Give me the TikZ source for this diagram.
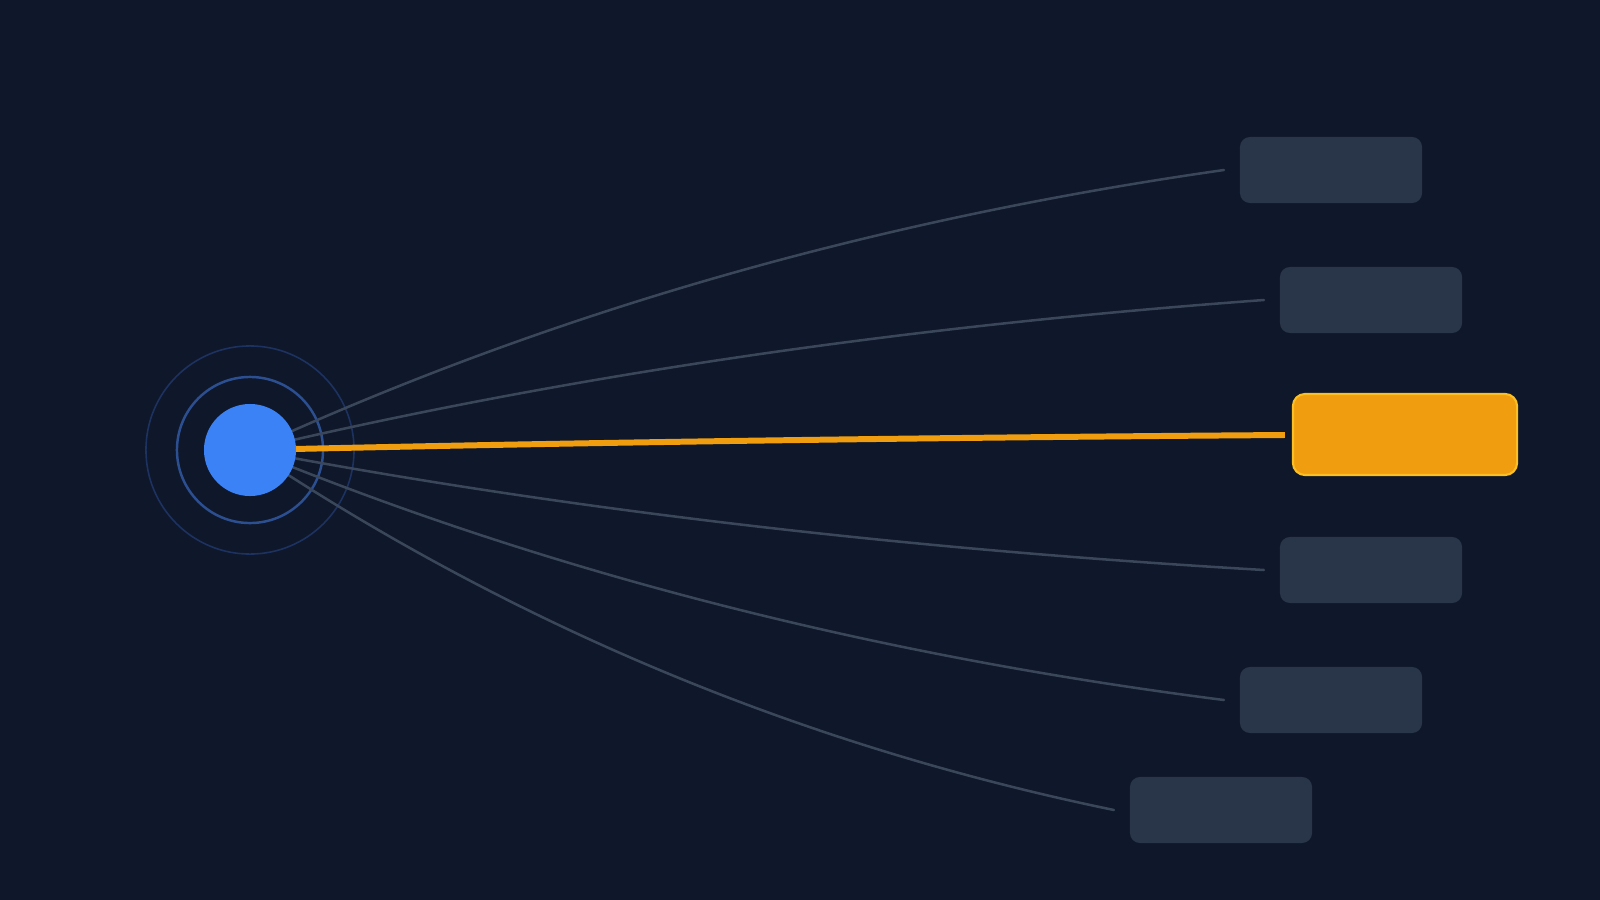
\documentclass[tikz,border=0pt]{standalone}
\usetikzlibrary{calc}
\definecolor{bg}{HTML}{0F172A}
\definecolor{boxgray}{HTML}{293548}
\definecolor{linegray}{HTML}{3A4659}
\definecolor{hubblue}{HTML}{3B82F6}
\definecolor{ringA}{HTML}{2C4F91}
\definecolor{ringB}{HTML}{1D3261}
\definecolor{accent}{HTML}{F09E10}
\definecolor{accentedge}{HTML}{FBBF24}
\begin{document}
\begin{tikzpicture}[x=0.01cm,y=-0.01cm,
  target/.style={rectangle, rounded corners=0.1cm, fill=boxgray, inner sep=0pt, outer sep=0pt,
    minimum width=1.82cm, minimum height=0.66cm},
  chosen/.style={rectangle, rounded corners=0.12cm, fill=accent, draw=accentedge, line width=0.6pt,
    inner sep=0pt, outer sep=0pt, minimum width=2.24cm, minimum height=0.81cm},
  link/.style={draw=linegray, line width=0.72pt, line cap=round},
  hotlink/.style={draw=accent, line width=1.7pt},
  ringinner/.style={circle, draw=ringA, line width=0.7pt, inner sep=0pt, minimum size=1.46cm},
  ringouter/.style={circle, draw=ringB, line width=0.45pt, inner sep=0pt, minimum size=2.08cm},
  hubdot/.style={circle, fill=hubblue, inner sep=0pt, minimum size=0.92cm}]
\fill[bg] (0,0) rectangle (1600,900);
\useasboundingbox (0,0) rectangle (1600,900);

\coordinate (hub) at (250,450);
\node[ringouter] (r2) at (hub) {};
\node[ringinner] (r1) at (hub) {};

\node[target] (b1) at (1331,170) {};
\node[target] (b2) at (1371,300) {};
\node[chosen] (b3) at (1405,434.5) {};
\node[target] (b4) at (1371,570) {};
\node[target] (b5) at (1331,700) {};
\node[target] (b6) at (1221,810) {};

\coordinate (e1) at ($(b1.west)+(-16,0)$);
\coordinate (e2) at ($(b2.west)+(-16,0)$);
\coordinate (e3) at ($(b3.west)+(-8,0.5)$);
\coordinate (e4) at ($(b4.west)+(-16,0)$);
\coordinate (e5) at ($(b5.west)+(-16,0)$);
\coordinate (e6) at ($(b6.west)+(-16,0)$);

\draw[link] (hub) .. controls (547.4,313.4) and (872.1,220.0) .. (e1);
\draw[link] (hub) .. controls (559.6,376.8) and (897.6,326.8) .. (e2);
\draw[link] (hub) .. controls (559.6,508.6) and (897.6,548.6) .. (e4);
\draw[link] (hub) .. controls (547.4,572.0) and (872.1,655.3) .. (e5);
\draw[link] (hub) .. controls (513.8,625.7) and (801.8,745.7) .. (e6);
\draw[hotlink] (hub) .. controls (565.7,442.7) and (910.4,437.7) .. (e3);

\node[hubdot] (dot) at (hub) {};
\end{tikzpicture}
\end{document}
